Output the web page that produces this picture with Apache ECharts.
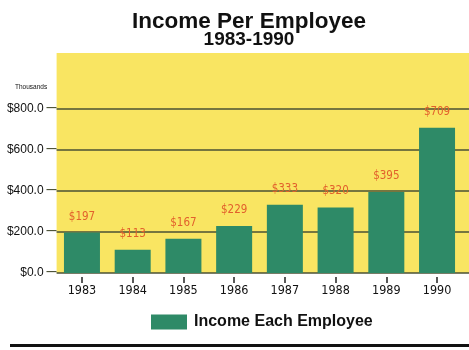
<!DOCTYPE html>
<html>
<head>
<meta charset="utf-8">
<script src="https://cdn.jsdelivr.net/npm/echarts@6/dist/echarts.min.js"></script>
<style>
  html, body { margin: 0; padding: 0; background: #ffffff; }
  #chart { width: 469px; height: 350px; }
</style>
</head>
<body>
<div id="chart"></div>
<script>
// Income per employee, in thousands of dollars
const years = ['1983', '1984', '1985', '1986', '1987', '1988', '1989', '1990'];
const income = [197, 113, 167, 229, 333, 320, 395, 709];
const yTicks = [0, 200, 400, 600, 800];
const seriesName = 'Income Each Employee';

const narrow = '"DejaVu Sans Condensed", "Liberation Sans Narrow", "Liberation Sans", sans-serif';
const sans = '"Liberation Sans", Arial, sans-serif';
const gridLineColor = '#4a5034';

const chart = echarts.init(document.getElementById('chart'), null, { renderer: 'canvas' });

chart.setOption({
  backgroundColor: '#ffffff',
  animation: false,
  title: [
    {
      text: 'Income Per Employee',
      left: 244,
      textAlign: 'center',
      top: 5,
      textStyle: { fontFamily: sans, fontWeight: 'bold', fontSize: 22.5, color: '#111111' }
    },
    {
      text: '1983-1990',
      left: 244,
      textAlign: 'center',
      top: 25,
      textStyle: { fontFamily: sans, fontWeight: 'bold', fontSize: 19, color: '#111111' }
    },
    {
      text: 'Thousands',
      left: 10,
      top: 79,
      textStyle: { fontFamily: sans, fontWeight: 'normal', fontSize: 6.5, color: '#111111' }
    }
  ],
  legend: {
    data: [{ name: seriesName, icon: 'rect' }],
    left: 151,
    top: 314,
    padding: 0,
    itemWidth: 36,
    itemHeight: 15,
    itemStyle: { borderWidth: 0 },
    textStyle: { fontFamily: sans, fontWeight: 'bold', fontSize: 16, color: '#111111', padding: [0, 0, 0, 2] }
  },
  grid: {
    left: 56.6,
    right: 0,
    top: 53,
    bottom: 77,
    show: true,
    backgroundColor: '#f9e562',
    borderWidth: 0
  },
  xAxis: {
    type: 'value',
    min: -0.5,
    max: 7.63,
    offset: 4,
    axisLine: { show: false, onZero: false },
    splitLine: { show: false },
    axisTick: {
      show: true,
      customValues: years.map((_, i) => i),
      length: 6,
      lineStyle: { color: '#222222', width: 1.5 }
    },
    axisLabel: {
      customValues: years.map((_, i) => i),
      formatter: (v) => years[Math.round(v)],
      margin: 7,
      fontFamily: narrow,
      fontSize: 12.5,
      color: '#111111'
    }
  },
  yAxis: {
    type: 'value',
    min: 0,
    max: 1073,
    axisLine: { show: false, onZero: false },
    axisTick: { show: false, customValues: yTicks },
    axisLabel: {
      customValues: yTicks,
      // value text followed by a short outward tick stub
      formatter: (v) => '{v|$' + v.toFixed(1) + '}{t|\u2014}',
      margin: 0,
      fontFamily: sans,
      fontSize: 12,
      color: '#111111',
      rich: {
        v: { fontFamily: sans, fontSize: 12, color: '#111111', padding: [0, 3, 0, 0] },
        t: { fontFamily: sans, fontSize: 10, fontWeight: 'bold', color: gridLineColor, padding: [0, 0, 1, 0] }
      }
    },
    splitLine: {
      show: true,
      lineStyle: { color: gridLineColor, width: 1.5 }
    }
  },
  series: [
    {
      name: seriesName,
      type: 'bar',
      barWidth: 36,
      data: income.map((v, i) => [i, v]),
      itemStyle: { color: '#2e8a67' },
      label: {
        show: true,
        position: 'top',
        distance: 10,
        formatter: (p) => '$' + p.value[1],
        fontFamily: narrow,
        fontSize: 11.5,
        color: '#e2602c'
      }
    }
  ],
  graphic: [
    {
      type: 'line',
      shape: { x1: 10, y1: 345.5, x2: 469, y2: 345.5 },
      style: { stroke: '#111111', lineWidth: 3 }
    }
  ]
});
</script>
</body>
</html>
